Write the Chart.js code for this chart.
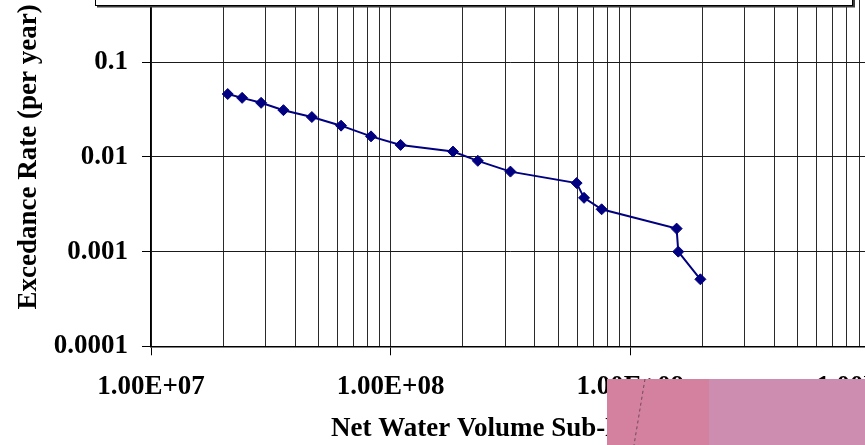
<!DOCTYPE html>
<html>
<head>
<meta charset="utf-8">
<script src="https://cdn.jsdelivr.net/npm/chart.js@4/dist/chart.umd.min.js"></script>
<style>
  html, body { margin: 0; padding: 0; background: #fff; overflow: hidden; width: 865px; height: 445px; }
  #wrap { position: absolute; left: 0; top: -40px; width: 900px; height: 485px; }
</style>
</head>
<body>
<div id="wrap"><canvas id="c" width="900" height="485"></canvas></div>
<script>
// Net water volume (x) against annual exceedance rate (y)
const volumes = [2.09e7, 2.40e7, 2.88e7, 3.57e7, 4.69e7, 6.21e7, 8.28e7, 1.10e8, 1.82e8,
                 2.31e8, 3.16e8, 5.97e8, 6.41e8, 7.59e8, 1.56e9, 1.585e9, 1.96e9];
const rates   = [0.0462, 0.0421, 0.0373, 0.0312, 0.0264, 0.0214, 0.0165, 0.0134, 0.0114,
                 0.0091, 0.0070, 0.0053, 0.0037, 0.0028, 0.00175, 0.0010, 0.00051];

// Axis ticks
const xDecades = [1e7, 1e8, 1e9, 1e10];
const xDecadeLabels = ['1.00E+07', '1.00E+08', '1.00E+09', '1.00E+10'];
const xMinorSteps = [1, 2, 3, 4, 5, 6, 7, 8, 9];
const yDecades = [1e-4, 1e-3, 1e-2, 1e-1, 1];
const yDecadeLabels = ['0.0001', '0.001', '0.01', '0.1', '1'];

const xTitle = 'Net Water Volume Sub-Basin 1';
const yTitle = 'Excedance Rate (per year)';
const seriesName = 'Excedance Rate';

const xTickValues = [];
for (let i = 0; i < xDecades.length - 1; i++) {
  xMinorSteps.forEach(m => xTickValues.push(xDecades[i] * m));
}
xTickValues.push(xDecades[xDecades.length - 1]);

const findIdx = (list, v) => list.findIndex(d => Math.abs(d - v) <= d * 1e-9);

const fontSpec = { family: '"Liberation Serif", "Times New Roman", serif', size: 27, weight: 'bold' };

// Frame box across the top and a paper note over the lower right corner
const decor = {
  id: 'decor',
  afterDraw(chart) {
    const ctx = chart.ctx;
    const dy = 40; // canvas sits 40px above the page top
    ctx.save();
    // box shadow
    ctx.fillStyle = '#3c3c3c';
    ctx.fillRect(97, 0, 758, 7.5 + dy);
    // box
    ctx.fillStyle = '#ffffff';
    ctx.fillRect(95, 0, 758, 6 + dy);
    ctx.strokeStyle = '#000';
    ctx.lineWidth = 1;
    ctx.strokeRect(95.5, -5, 757, 5.5 + dy + 5);
    // paper note
    ctx.fillStyle = '#d4809f';
    ctx.fillRect(607, 379 + dy, 102, 70);
    ctx.fillStyle = '#cd8db1';
    ctx.fillRect(709, 379 + dy, 160, 70);
    ctx.strokeStyle = '#6e4a5c';
    ctx.setLineDash([3, 3]);
    ctx.beginPath();
    ctx.moveTo(645, 379 + dy);
    ctx.lineTo(634, 445 + dy);
    ctx.stroke();
    ctx.restore();
  }
};

new Chart(document.getElementById('c'), {
  type: 'scatter',
  data: {
    datasets: [{
      label: seriesName,
      data: volumes.map((v, i) => ({ x: v, y: rates[i] })),
      showLine: true,
      borderColor: '#000080',
      backgroundColor: '#000080',
      borderWidth: 2,
      pointStyle: 'rectRot',
      pointRadius: 5.5,
      pointBorderWidth: 1,
      pointBackgroundColor: '#000080',
      pointBorderColor: '#000080',
      tension: 0
    }]
  },
  options: {
    responsive: false,
    animation: false,
    layout: { padding: { top: 7.6, right: 30, bottom: 0, left: 0 } },
    plugins: { legend: { display: false }, tooltip: { enabled: false } },
    scales: {
      x: {
        type: 'logarithmic',
        min: 1e7,
        max: 1e10,
        afterBuildTicks(scale) { scale.ticks = xTickValues.map(v => ({ value: v })); },
        afterFit(scale) { scale.height = 98.7; scale.paddingLeft = 0; scale.paddingRight = 0; },
        ticks: {
          autoSkip: false,
          maxRotation: 0,
          minRotation: 0,
          padding: 16,
          color: '#000',
          font: fontSpec,
          callback: (value) => { const i = findIdx(xDecades, value); return i >= 0 ? xDecadeLabels[i] : ''; }
        },
        grid: {
          color: '#2a2a2a',
          lineWidth: 1,
          drawTicks: true,
          tickLength: 9,
          tickColor: (c) => (c.tick && findIdx(xDecades, c.tick.value) >= 0) ? '#000' : 'rgba(0,0,0,0)'
        },
        border: { display: true, color: '#000', width: 1.5 },
        title: { display: true, text: xTitle, color: '#000', font: fontSpec, padding: { top: 0, bottom: 0 } }
      },
      y: {
        type: 'logarithmic',
        min: 1e-4,
        max: 1,
        afterBuildTicks(scale) { scale.ticks = yDecades.map(v => ({ value: v })); },
        afterFit(scale) { scale.width = 151; scale.paddingTop = 0; scale.paddingBottom = 0; },
        ticks: {
          autoSkip: false,
          padding: 14,
          color: '#000',
          font: fontSpec,
          callback: (value) => { const i = findIdx(yDecades, value); return i >= 0 ? yDecadeLabels[i] : ''; }
        },
        grid: { color: '#1a1a1a', lineWidth: 1, drawTicks: true, tickLength: 9, tickColor: '#000' },
        border: { display: true, color: '#000', width: 1.5 },
        title: { display: true, text: yTitle, color: '#000', font: fontSpec, padding: { top: 13, bottom: 0 } }
      }
    }
  },
  plugins: [decor]
});
</script>
</body>
</html>
